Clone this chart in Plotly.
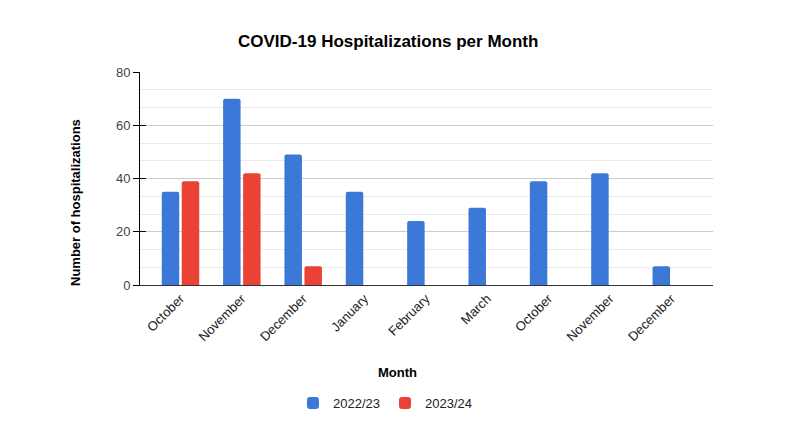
import plotly.graph_objects as go

months = ["October", "November", "December", "January", "February", "March",
          "October", "November", "December"]
season_2022_23 = [35, 70, 49, 35, 24, 29, 39, 42, 7]
season_2023_24 = [39, 42, 7, None, None, None, None, None, None]
series_names = ["2022/23", "2023/24"]
y_ticks = [0, 20, 40, 60, 80]

W, H = 800, 437
OFF = 8  # page body offset
L, R, T, B = 140, 713, 72, 285

def px_x(px):
    return (px - L) / (R - L)

def px_y(py):
    return (B - py) / (B - T)

idx = list(range(len(months)))

fig = go.Figure()
fig.add_trace(go.Bar(x=idx, y=season_2022_23, name=series_names[0],
                     marker=dict(color="#3c78d8", line=dict(width=0))))
fig.add_trace(go.Bar(x=idx, y=season_2023_24, name=series_names[1],
                     marker=dict(color="#ea4335", line=dict(width=0))))
fig.add_trace(go.Scatter(x=[None], y=[None], yaxis="y2", showlegend=False,
                         hoverinfo="skip"))

font = "Liberation Sans, Arial, sans-serif"

fig.update_layout(
    width=W, height=H,
    margin=dict(l=L - OFF, r=W - (R - OFF), t=T - OFF, b=H - (B - OFF)),
    paper_bgcolor="white", plot_bgcolor="white",
    font=dict(family=font, size=12, color="#222"),
    barmode="group", bargap=0.348, bargroupgap=0.126,
    barcornerradius=2,
    showlegend=True,
    legend=dict(orientation="h", x=px_x(385), y=px_y(403),
                xanchor="center", yanchor="middle",
                font=dict(size=13, color="#222"), itemwidth=30,
                traceorder="normal"),
    xaxis=dict(
        range=[-0.66, 8.68],
        tickmode="array", tickvals=idx, ticktext=months,
        tickangle=-45, ticks="", showgrid=False,
        showline=True, linecolor="#333", linewidth=1,
        tickfont=dict(size=13, color="#222"),
        zeroline=False, fixedrange=True,
    ),
    yaxis=dict(
        range=[0, 80], tickmode="array", tickvals=y_ticks,
        ticks="outside", ticklen=6, tickcolor="#000", tickwidth=1,
        showline=True, linecolor="#000", linewidth=1,
        showgrid=True, gridcolor="#cccccc", gridwidth=1,
        minor=dict(dtick=20 / 3, showgrid=True, gridcolor="#ebebeb",
                   ticks=""),
        zeroline=False,
        tickfont=dict(size=13, color="#444"),
    ),
    yaxis2=dict(
        range=[0, 80], overlaying="y", anchor="x", side="left",
        tickmode="array", tickvals=y_ticks,
        ticks="inside", ticklen=6, tickcolor="#000", tickwidth=1,
        showticklabels=False, showgrid=False, showline=False, zeroline=False,
    ),
    annotations=[
        dict(text="<b>COVID-19 Hospitalizations per Month</b>",
             xref="paper", yref="paper", x=px_x(388), y=px_y(42),
             xanchor="center", yanchor="middle", showarrow=False,
             font=dict(size=17, color="#000")),
        dict(text="<b>Month</b>", xref="paper", yref="paper",
             x=px_x(397), y=px_y(372), xanchor="center", yanchor="middle",
             showarrow=False, font=dict(size=13, color="#000")),
        dict(text="<b>Number of hospitalizations</b>", xref="paper",
             yref="paper", x=px_x(75), y=px_y(203), xanchor="center",
             yanchor="middle", textangle=-90, showarrow=False,
             font=dict(size=13, color="#000")),
    ],
)

fig.write_html("out.html")
